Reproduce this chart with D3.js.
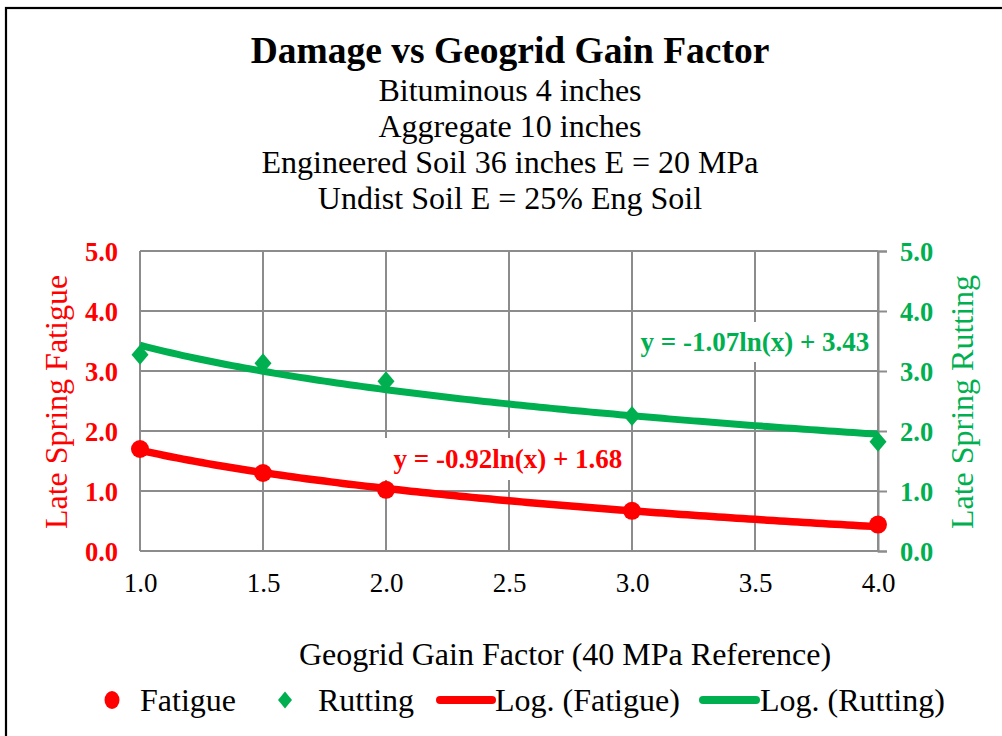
<!DOCTYPE html>
<html>
<head>
<meta charset="utf-8">
<script src="https://cdn.jsdelivr.net/npm/d3@7"></script>
<style>
  html, body { margin: 0; padding: 0; background: #fff; }
  svg { display: block; }
  text { font-family: "Liberation Serif", "Times New Roman", serif; }
</style>
</head>
<body>
<svg id="chart" width="1002" height="736"></svg>
<script>
// Geogrid gain factor (x) and late-spring damage values
const gainFactors = [1.0, 1.5, 2.0, 3.0, 4.0];
const fatigue = [1.70, 1.30, 1.02, 0.67, 0.44];
const rutting = [3.27, 3.13, 2.83, 2.25, 1.82];

// Logarithmic trend coefficients: y = a*ln(x) + b
const fatigueTrend = [-0.92, 1.68];
const ruttingTrend = [-1.07, 3.43];

const xTicks = [1.0, 1.5, 2.0, 2.5, 3.0, 3.5, 4.0];
const yTicks = [0, 1, 2, 3, 4, 5];

const titleText = "Damage vs Geogrid Gain Factor";
const subtitleLines = [
  "Bituminous 4 inches",
  "Aggregate 10 inches",
  "Engineered Soil 36 inches E = 20 MPa",
  "Undist Soil E = 25% Eng Soil"
];

const RED = "#FF0000";
const GREEN = "#00B050";
const GRID = "#8c8c8c";

const svg = d3.select("#chart");

// outer frame
svg.append("rect")
  .attr("x", 6).attr("y", 8)
  .attr("width", 1010).attr("height", 740)
  .attr("fill", "none").attr("stroke", "#000").attr("stroke-width", 2.2);

// titles
svg.append("text")
  .attr("x", 510).attr("y", 63)
  .attr("text-anchor", "middle")
  .attr("font-size", 37.5).attr("font-weight", "bold")
  .text(titleText);

svg.selectAll("text.sub").data(subtitleLines).join("text")
  .attr("class", "sub")
  .attr("x", 510).attr("y", (d, i) => 101 + i * 36)
  .attr("text-anchor", "middle")
  .attr("font-size", 32)
  .text(d => d);

// plot area
const plotL = 140, plotR = 878, plotT = 251, plotB = 551;
const x = d3.scaleLinear().domain([1, 4]).range([plotL, plotR]);
const y = d3.scaleLinear().domain([0, 5]).range([plotB, plotT]);

const g = svg.append("g");

// gridlines
g.selectAll("line.vgrid").data(xTicks).join("line")
  .attr("class", "vgrid")
  .attr("x1", d => x(d)).attr("x2", d => x(d))
  .attr("y1", plotT).attr("y2", plotB)
  .attr("stroke", GRID).attr("stroke-width", 2);
g.selectAll("line.hgrid").data(yTicks).join("line")
  .attr("class", "hgrid")
  .attr("x1", plotL).attr("x2", plotR)
  .attr("y1", d => y(d)).attr("y2", d => y(d))
  .attr("stroke", GRID).attr("stroke-width", 2);

// left axis labels (fatigue)
const leftAxis = d3.axisLeft(y).tickValues(yTicks).tickSize(0).tickPadding(22)
  .tickFormat(d3.format(".1f"));
const la = svg.append("g").attr("transform", `translate(${plotL},0)`).call(leftAxis);
la.select(".domain").remove();
la.selectAll("text")
  .attr("fill", RED).attr("font-size", 26.5).attr("font-weight", "bold")
  .attr("font-family", "Liberation Serif, serif").attr("dy", "0.35em");

// right axis (rutting) with outward ticks
const rightAxis = d3.axisRight(y).tickValues(yTicks).tickSize(9).tickPadding(13)
  .tickFormat(d3.format(".1f"));
const ra = svg.append("g").attr("transform", `translate(${plotR},0)`).call(rightAxis);
ra.select(".domain").attr("stroke", GRID).attr("stroke-width", 2);
ra.selectAll(".tick line").attr("stroke", GRID).attr("stroke-width", 2);
ra.selectAll("text")
  .attr("fill", GREEN).attr("font-size", 26.5).attr("font-weight", "bold")
  .attr("font-family", "Liberation Serif, serif").attr("dy", "0.35em");

// bottom axis labels
const bottomAxis = d3.axisBottom(x).tickValues(xTicks).tickSize(0).tickPadding(22)
  .tickFormat(d3.format(".1f"));
const ba = svg.append("g").attr("transform", `translate(0,${plotB})`).call(bottomAxis);
ba.select(".domain").remove();
ba.selectAll("text")
  .attr("fill", "#000").attr("font-size", 27)
  .attr("font-family", "Liberation Serif, serif");

// axis titles
svg.append("text")
  .attr("transform", `translate(67,${(plotT + plotB) / 2 + 1}) rotate(-90)`)
  .attr("text-anchor", "middle")
  .attr("fill", RED).attr("font-size", 32)
  .text("Late Spring Fatigue");
svg.append("text")
  .attr("transform", `translate(973,${(plotT + plotB) / 2 + 1}) rotate(-90)`)
  .attr("text-anchor", "middle")
  .attr("fill", GREEN).attr("font-size", 32)
  .text("Late Spring Rutting");
svg.append("text")
  .attr("x", 565).attr("y", 665)
  .attr("text-anchor", "middle")
  .attr("font-size", 32)
  .text("Geogrid Gain Factor (40 MPa Reference)");

// trend curves
const trendX = d3.range(0, 121).map(i => 1 + i * 3 / 120);
const trendLine = d3.line().x(d => x(d[0])).y(d => y(d[1]));
function trendPoints(c) { return trendX.map(v => [v, c[0] * Math.log(v) + c[1]]); }

// equation label boxes (over the grid, under the curves)
function eqLabel(cx, cy, w, h, txt, color) {
  svg.append("rect")
    .attr("x", cx - w / 2).attr("y", cy - h / 2)
    .attr("width", w).attr("height", h).attr("fill", "#fff");
  svg.append("text")
    .attr("x", cx).attr("y", cy).attr("dy", "0.35em")
    .attr("text-anchor", "middle")
    .attr("fill", color).attr("font-size", 27).attr("font-weight", "bold")
    .text(txt);
}
const fmt = c => `y = ${c[0].toFixed(2)}ln(x) + ${c[1].toFixed(2)}`;
eqLabel(508, 459, 246, 42, fmt(fatigueTrend), RED);
eqLabel(755, 342, 244, 40, fmt(ruttingTrend), GREEN);

svg.append("path").datum(trendPoints(ruttingTrend))
  .attr("d", trendLine).attr("fill", "none")
  .attr("stroke", GREEN).attr("stroke-width", 7);
svg.append("path").datum(trendPoints(fatigueTrend))
  .attr("d", trendLine).attr("fill", "none")
  .attr("stroke", RED).attr("stroke-width", 7.5);

// data markers
const diamondPath = (hw, hh) => `M0,${-hh}L${hw},0L0,${hh}L${-hw},0Z`;
svg.selectAll("path.rut").data(gainFactors).join("path")
  .attr("class", "rut")
  .attr("transform", (d, i) => `translate(${x(d)},${y(rutting[i])})`)
  .attr("d", diamondPath(8.5, 10)).attr("fill", GREEN);
svg.selectAll("circle.fat").data(gainFactors).join("circle")
  .attr("class", "fat")
  .attr("cx", d => x(d)).attr("cy", (d, i) => y(fatigue[i]))
  .attr("r", 9).attr("fill", RED);

// legend
const ly = 700;
const leg = svg.append("g");
leg.append("ellipse").attr("cx", 112).attr("cy", ly).attr("rx", 7.5).attr("ry", 9).attr("fill", RED);
leg.append("text").attr("x", 140).attr("y", ly).attr("dy", "0.35em").attr("font-size", 32).text("Fatigue");
leg.append("path").attr("transform", `translate(285,${ly})`)
  .attr("d", diamondPath(7, 8.5)).attr("fill", GREEN);
leg.append("text").attr("x", 318).attr("y", ly).attr("dy", "0.35em").attr("font-size", 32).text("Rutting");
leg.append("line").attr("x1", 440).attr("x2", 492).attr("y1", ly).attr("y2", ly)
  .attr("stroke", RED).attr("stroke-width", 8).attr("stroke-linecap", "round");
leg.append("text").attr("x", 495).attr("y", ly).attr("dy", "0.35em").attr("font-size", 32).text("Log. (Fatigue)");
leg.append("line").attr("x1", 703).attr("x2", 756).attr("y1", ly).attr("y2", ly)
  .attr("stroke", GREEN).attr("stroke-width", 8).attr("stroke-linecap", "round");
leg.append("text").attr("x", 760).attr("y", ly).attr("dy", "0.35em").attr("font-size", 32).text("Log. (Rutting)");
</script>
</body>
</html>
